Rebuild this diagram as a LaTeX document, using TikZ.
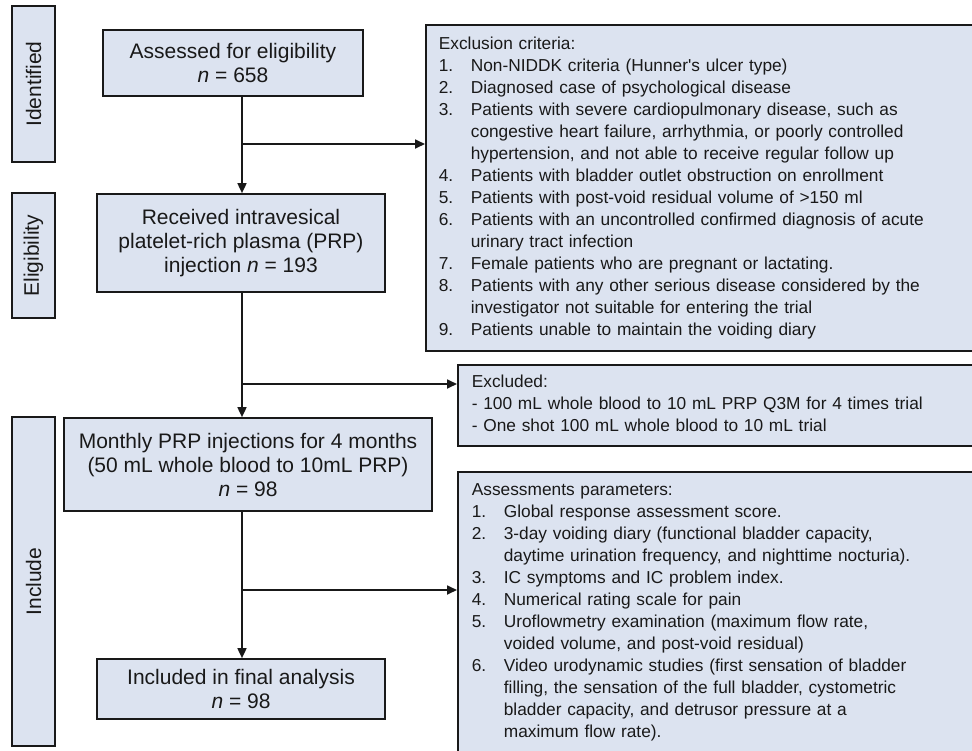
\documentclass[tikz,border=0pt]{standalone}
\usepackage{fontspec}
\setmainfont{Liberation Sans}
\usetikzlibrary{arrows.meta}
\definecolor{boxfill}{RGB}{220,227,240}
\definecolor{linec}{RGB}{25,25,25}
\newcommand{\mainfs}{\fontsize{21}{24}\selectfont}
\newcommand{\listfs}{\fontsize{17.3}{22}\selectfont}
\newcommand{\itemlist}[1]{\noindent\begin{tabular}{@{}p{32pt}@{}l@{}}#1\end{tabular}}
\newcommand{\hdr}[1]{\multicolumn{2}{@{}l@{}}{#1}}
\tikzset{
  box/.style={draw=linec, line width=1.7pt, fill=boxfill, inner sep=0pt, align=center, font=\mainfs, text=linec},
  side/.style={draw=linec, line width=1.7pt, fill=boxfill, inner sep=0pt, rotate=90, font=\mainfs, text=linec, minimum height=43pt},
  listbox/.style={draw=linec, line width=1.7pt, fill=boxfill, anchor=north west, align=left, font=\listfs, text=linec},
  arr/.style={draw=linec, line width=1.7pt, -{Triangle[length=10pt,width=9pt]}}
}
\begin{document}
\begin{tikzpicture}[x=1pt,y=-1pt]
\useasboundingbox (0,0) rectangle (972,750);
\clip (0,0) rectangle (972,750);

% side labels
\node[side, minimum width=156pt] (sid) at (33.5,84) {Identified};
\node[side, minimum width=125pt] (sel) at (33.5,255.5) {Eligibility};
\node[side, minimum width=329pt] (sin) at (33.5,581.5) {Include};

% main boxes
\node[box, minimum width=260pt, minimum height=66pt] (ass) at (233,63)
  {Assessed for eligibility\\\textit{n} = 658};
\node[box, minimum width=288pt, minimum height=98pt] (rec) at (241,243)
  {Received intravesical\\platelet-rich plasma (PRP)\\injection \textit{n} = 193};
\node[box, minimum width=368pt, minimum height=93pt] (mon) at (248,464.5)
  {Monthly PRP injections for 4 months\\(50 mL whole blood to 10mL PRP)\\\textit{n} = 98};
\node[box, minimum width=288pt, minimum height=60pt] (inc) at (241,689)
  {Included in final analysis\\\textit{n} = 98};

% right boxes
\node[listbox, inner xsep=13pt, inner ysep=9pt, text width=539pt] (exc) at (425,24) {\itemlist{%
\hdr{Exclusion criteria:}\\
1. & Non-NIDDK criteria (Hunner\textquotesingle s ulcer type)\\
2. & Diagnosed case of psychological disease\\
3. & Patients with severe cardiopulmonary disease, such as\\
   & congestive heart failure, arrhythmia, or poorly controlled\\
   & hypertension, and not able to receive regular follow up\\
4. & Patients with bladder outlet obstruction on enrollment\\
5. & Patients with post-void residual volume of >150 ml\\
6. & Patients with an uncontrolled confirmed diagnosis of acute\\
   & urinary tract infection\\
7. & Female patients who are pregnant or lactating.\\
8. & Patients with any other serious disease considered by the\\
   & investigator not suitable for entering the trial\\
9. & Patients unable to maintain the voiding diary
}};
\node[listbox, inner xsep=14pt, inner ysep=7.5pt, text width=505pt] (exd) at (457,364) {\itemlist{%
\hdr{Excluded:}\\
\hdr{- 100 mL whole blood to 10 mL PRP Q3M for 4 times trial}\\
\hdr{- One shot 100 mL whole blood to 10 mL trial}
}};
\node[listbox, inner xsep=14pt, inner ysep=8pt, text width=505pt] (asp) at (457,471) {\itemlist{%
\hdr{Assessments parameters:}\\
1. & Global response assessment score.\\
2. & 3-day voiding diary (functional bladder capacity,\\
   & daytime urination frequency, and nighttime nocturia).\\
3. & IC symptoms and IC problem index.\\
4. & Numerical rating scale for pain\\
5. & Uroflowmetry examination (maximum flow rate,\\
   & voided volume, and post-void residual)\\
6. & Video urodynamic studies (first sensation of bladder\\
   & filling, the sensation of the full bladder, cystometric\\
   & bladder capacity, and detrusor pressure at a\\
   & maximum flow rate).
}};

% spine coordinates
\coordinate (s1) at (242,96);
\coordinate (b1) at (242,144);
\coordinate (s2) at (242,292);
\coordinate (b2) at (242,384);
\coordinate (s3) at (242,511);
\coordinate (b3) at (242,590);

\draw[arr] (s1) -- (s1 |- rec.north);
\draw[arr] (b1) -- (b1 -| exc.west);
\draw[arr] (s2) -- (s2 |- mon.north);
\draw[arr] (b2) -- (b2 -| exd.west);
\draw[arr] (s3) -- (s3 |- inc.north);
\draw[arr] (b3) -- (b3 -| asp.west);
\end{tikzpicture}
\end{document}
